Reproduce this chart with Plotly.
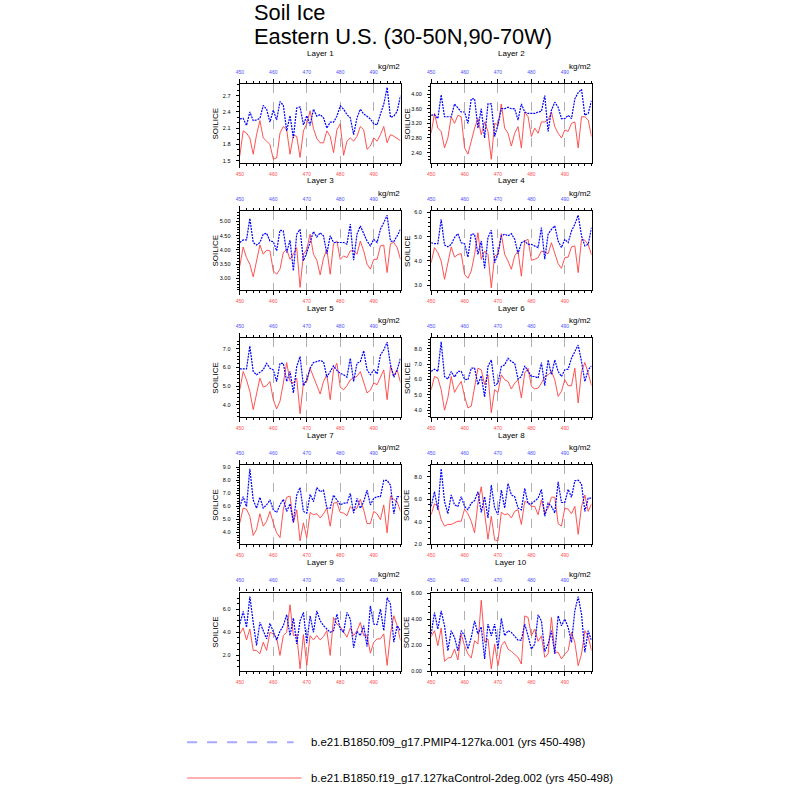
import plotly.graph_objects as go

years = list(range(450, 499))

L1_blue = [2.27,2.28,2.15,2.40,2.24,2.25,2.28,2.52,2.45,2.21,2.43,2.25,2.59,2.52,2.05,2.33,1.92,2.47,2.49,2.16,2.33,2.15,2.45,2.32,2.35,2.29,2.10,2.21,2.21,2.32,2.51,2.45,2.35,2.29,1.98,2.29,2.45,2.36,2.32,2.27,2.18,2.16,2.36,2.54,2.85,2.30,2.32,2.41,2.70]
L1_red = [1.59,2.05,2.01,1.92,1.62,1.98,2.24,1.92,1.86,1.80,1.53,1.55,2.01,2.13,2.07,1.62,1.97,1.95,1.56,2.05,2.18,2.42,2.09,1.91,1.83,1.83,2.05,1.95,1.65,2.07,2.18,1.60,1.86,1.92,1.86,1.95,2.13,2.07,1.71,1.77,1.92,1.86,1.98,2.13,1.83,1.98,1.95,1.91,1.87]

L2_blue = [3.42,3.44,3.33,3.98,3.38,3.38,3.38,3.73,3.62,3.51,3.51,3.20,3.87,3.87,3.07,3.60,2.80,3.73,3.73,2.84,3.16,3.60,3.60,3.64,3.60,3.60,3.29,3.73,3.51,3.47,3.47,3.47,3.51,3.53,3.96,2.98,3.56,3.78,3.64,3.33,3.33,3.42,3.33,3.87,4.04,4.13,3.42,3.47,3.82]
L2_red = [2.93,3.47,3.07,2.98,2.53,2.80,3.38,3.20,3.42,3.38,2.53,2.36,2.71,3.07,3.33,2.89,3.24,2.98,2.22,3.20,3.16,3.73,3.07,2.93,2.58,2.93,3.11,2.53,3.51,3.38,2.84,3.07,2.93,3.24,3.24,3.29,3.51,3.11,2.93,2.80,3.02,2.98,3.20,3.24,2.53,3.38,3.38,3.29,2.84]

L3_blue = [4.26,4.35,4.35,5.10,4.26,4.17,4.26,4.55,4.58,4.31,4.29,3.97,4.69,4.66,3.91,4.34,3.27,4.55,4.72,3.62,3.91,4.31,4.64,4.45,4.60,4.49,3.87,4.49,4.26,4.26,4.26,4.26,4.20,4.90,3.64,4.55,4.84,4.60,4.31,4.14,4.37,4.26,4.72,4.95,5.21,4.31,4.29,4.49,4.72]
L3_red = [3.44,4.10,3.73,3.50,3.06,3.62,4.17,3.85,3.99,3.97,3.27,3.15,3.33,3.91,4.02,3.67,3.85,4.08,2.69,3.85,4.02,4.55,3.85,3.64,3.13,3.71,4.02,3.15,4.22,4.31,3.67,3.79,3.73,3.97,3.97,3.85,4.31,3.97,3.50,3.33,3.67,3.67,4.14,4.17,3.21,4.22,4.26,4.08,3.67]

L4_blue = [4.75,4.71,4.71,5.71,4.66,4.58,4.68,4.96,5.12,4.75,4.71,4.16,5.10,5.10,4.27,4.82,3.70,4.96,5.26,3.93,4.30,5.03,5.10,5.03,5.12,4.89,4.30,4.75,4.82,4.68,4.68,4.62,4.55,5.37,4.07,5.10,5.30,5.44,4.82,4.55,4.89,4.75,5.23,5.51,5.88,5.03,4.62,4.68,5.37]
L4_red = [3.93,4.55,4.34,4.00,3.25,4.00,4.58,4.16,4.27,4.30,3.45,3.29,3.59,4.27,5.16,4.07,4.41,4.27,2.90,4.21,4.27,5.12,4.27,4.00,3.66,4.21,4.41,3.38,4.82,4.89,4.03,4.07,4.14,4.41,4.34,4.30,4.75,4.27,3.89,3.70,4.14,4.16,4.58,4.62,3.52,4.89,4.85,4.68,4.25]

L5_blue = [5.92,5.92,5.92,7.14,5.78,5.61,5.73,5.87,6.22,5.96,5.87,5.25,6.22,6.22,5.25,5.78,4.64,6.05,6.58,5.02,5.34,5.96,6.26,6.31,6.37,6.31,5.48,5.78,6.08,5.84,5.69,5.61,5.48,6.49,5.25,6.22,6.31,6.89,5.87,5.61,5.87,5.66,6.66,6.93,7.35,6.14,5.48,5.87,6.49]
L5_red = [4.81,5.78,5.34,4.72,3.75,4.55,5.43,4.95,5.02,5.25,4.28,3.79,4.20,5.17,6.26,5.25,5.17,5.43,3.53,5.17,5.25,5.96,5.52,5.08,4.58,5.25,5.61,4.28,5.87,6.22,4.95,4.81,5.02,5.34,5.43,5.52,5.78,5.25,4.64,4.78,5.17,5.08,5.48,5.87,4.28,6.05,5.55,5.87,5.20]

L6_blue = [6.52,6.67,6.52,8.45,6.19,6.02,6.52,6.15,6.52,6.52,6.02,5.98,6.73,6.73,5.66,6.24,4.86,6.84,7.27,5.59,5.76,6.84,6.95,7.38,7.16,7.05,6.02,6.19,6.88,6.52,6.19,6.19,6.09,7.10,5.59,7.27,6.30,7.27,6.52,6.19,6.62,6.67,7.38,7.81,8.24,7.16,5.87,6.62,6.88]
L6_red = [5.33,6.19,6.09,5.33,4.00,4.80,6.19,5.16,5.55,5.87,4.90,4.15,4.26,5.51,6.73,6.62,5.66,6.30,3.83,5.33,5.16,6.30,5.98,5.87,5.38,5.76,5.98,4.80,6.41,6.73,5.55,5.38,5.44,5.76,6.19,6.30,6.52,5.98,4.90,5.23,5.98,5.59,5.59,6.73,4.47,6.52,7.10,6.41,5.59]

L7_blue = [5.98,6.74,5.98,8.87,6.49,5.86,6.69,5.86,6.11,6.49,5.73,5.53,6.11,6.54,5.61,6.19,4.78,6.86,7.44,5.61,5.48,6.91,6.36,7.44,7.12,7.24,5.86,5.86,6.86,6.44,6.11,6.24,6.24,6.99,5.48,6.61,5.86,6.36,7.24,6.11,6.61,6.74,6.74,7.99,7.99,7.62,5.43,6.74,6.74]
L7_red = [4.73,5.86,5.78,5.23,3.77,4.23,5.43,4.48,4.85,5.61,4.73,3.97,3.60,5.78,6.69,6.79,4.73,5.73,3.36,4.73,3.60,5.53,5.36,5.43,5.11,5.43,5.86,4.48,6.24,6.29,5.53,5.48,5.28,5.98,5.73,5.86,6.54,5.73,4.68,4.68,5.61,5.43,4.98,6.11,3.97,6.79,6.54,6.36,5.61]

L8_blue = [5.37,6.68,5.07,8.73,5.81,4.72,6.39,5.51,5.37,6.24,5.37,5.07,5.66,5.89,6.68,4.84,6.24,4.34,7.27,5.22,4.63,6.83,5.22,7.41,6.39,6.24,5.22,5.07,6.98,5.60,5.60,5.81,6.10,6.89,4.49,5.66,5.37,4.78,7.56,5.72,5.72,6.89,6.19,7.65,7.71,7.36,4.93,6.10,6.10]
L8_red = [4.63,5.60,5.37,4.20,3.61,3.76,3.76,3.90,4.05,4.05,5.13,4.72,4.05,3.02,5.66,7.12,4.63,2.44,4.49,2.38,2.29,4.84,4.63,4.72,4.34,4.93,5.07,3.76,5.81,5.72,5.37,5.37,4.63,5.95,4.78,5.22,6.19,6.19,3.84,3.61,5.22,5.13,4.72,5.37,2.88,5.37,6.39,4.93,5.60]

L9_blue = [4.72,5.83,4.43,7.13,4.87,2.84,4.87,4.20,3.42,4.78,4.09,3.33,4.09,4.58,5.54,3.71,5.25,2.99,5.01,5.74,3.04,5.45,4.00,5.88,5.01,4.58,4.29,4.00,4.14,5.59,4.29,4.00,5.74,5.16,2.64,4.09,3.71,4.58,2.75,6.32,4.72,4.67,6.03,4.14,7.04,6.46,3.13,4.58,4.14]
L9_red = [3.86,4.38,3.33,4.29,2.41,2.41,2.12,3.13,2.41,4.00,3.86,3.51,1.97,3.71,4.00,6.41,3.71,3.80,0.81,3.80,1.10,3.71,3.33,3.71,3.33,3.62,4.14,1.97,5.30,4.72,4.49,4.00,3.57,4.38,3.71,4.14,4.87,3.71,3.71,2.17,3.13,3.42,3.42,3.86,1.10,3.86,5.45,4.58,3.28]

L10_blue = [2.86,4.52,3.24,4.65,3.50,1.58,3.12,2.60,1.58,3.12,2.73,1.71,2.60,3.88,2.86,3.42,0.95,3.63,2.73,3.63,1.71,4.06,2.73,3.12,2.99,2.73,2.40,2.40,3.63,2.73,1.71,2.09,4.34,3.88,1.53,2.09,3.12,1.33,4.26,3.50,4.01,3.37,2.22,4.65,5.74,4.39,1.46,3.12,2.35]
L10_red = [2.66,3.12,1.97,3.32,0.77,1.02,1.07,1.71,0.87,2.86,1.97,1.33,1.02,2.35,2.09,5.46,2.22,2.48,0.18,2.09,0.43,1.97,2.30,1.71,1.53,1.33,1.07,0.56,4.26,4.14,2.73,3.24,2.30,2.73,1.07,1.33,4.14,1.46,1.46,0.95,1.33,1.58,2.99,2.22,0.43,1.33,3.12,2.66,1.58]

layer_names = ["Layer 1", "Layer 2", "Layer 3", "Layer 4", "Layer 5",
               "Layer 6", "Layer 7", "Layer 8", "Layer 9", "Layer 10"]
blue_series = [L1_blue, L2_blue, L3_blue, L4_blue, L5_blue, L6_blue, L7_blue, L8_blue, L9_blue, L10_blue]
red_series = [L1_red, L2_red, L3_red, L4_red, L5_red, L6_red, L7_red, L8_red, L9_red, L10_red]

y_ranges = [[1.46, 2.91], [2.12, 4.27], [2.60, 5.35], [2.81, 6.04], [3.35, 7.55],
            [3.55, 8.67], [3.10, 9.13], [2.0, 9.02], [0.58, 7.48], [0.0, 6.05]]
y_tick0 = [1.5, 2.4, 3.0, 3.0, 4.0, 4.0, 4.0, 2.0, 2.0, 0.0]
y_dtick = [0.3, 0.4, 0.5, 1.0, 1.0, 1.0, 1.0, 2.0, 2.0, 2.0]
y_minor = [0.1, 0.1, 0.1, 0.2, 0.2, 0.2, 0.2, 0.5, 0.5, 0.5]
y_fmt = [".1f", ".2f", ".2f", ".1f", ".1f", ".1f", ".1f", ".1f", ".1f", ".2f"]

run_names = ["b.e21.B1850.f09_g17.PMIP4-127ka.001 (yrs 450-498)",
             "b.e21.B1850.f19_g17.127kaControl-2deg.002 (yrs 450-498)"]

W = H = 800
FONT = "Liberation Sans, Arial, Helvetica, sans-serif"
BLUE = "#0000ff"
RED = "#ff4040"
BLUE_LBL = "#5050ff"
RED_LBL = "#ff5050"

col_x = [(237.0, 398.5), (429.3, 590.5)]
row_top0 = 82.7
row_step = 127.9
box_h = 79.2

fig = go.Figure()
annotations = []
shapes = []

def px2x(p):
    return p / W

def px2y(p):
    return 1 - p / H

for i in range(10):
    r, c = divmod(i, 2)
    x0, x1 = col_x[c]
    top = row_top0 + r * row_step
    bot = top + box_h
    n = i + 1
    nt = i + 11
    xb = "xaxis" if n == 1 else f"xaxis{n}"
    yb = "yaxis" if n == 1 else f"yaxis{n}"
    xt = f"xaxis{nt}"
    xb_ref = "x" if n == 1 else f"x{n}"
    yb_ref = "y" if n == 1 else f"y{n}"
    xt_ref = f"x{nt}"

    fig.add_trace(go.Scatter(x=years, y=red_series[i], mode="lines",
                             line=dict(color=RED, width=0.9),
                             xaxis=xb_ref, yaxis=yb_ref, showlegend=False,
                             hoverinfo="skip"))
    fig.add_trace(go.Scatter(x=years, y=blue_series[i], mode="lines",
                             line=dict(color=BLUE, width=1.2, dash="2px,1px"),
                             xaxis=xt_ref, yaxis=yb_ref, showlegend=False,
                             hoverinfo="skip"))

    common_x = dict(range=[450, 498], tickvals=[450, 460, 470, 480, 490],
                    ticks="outside", ticklen=4, tickwidth=0.8, tickcolor="black",
                    minor=dict(dtick=2, tick0=450, ticks="outside", ticklen=2,
                               tickwidth=0.6, tickcolor="black"),
                    zeroline=False, fixedrange=True)
    fig.layout[xb] = dict(domain=[px2x(x0), px2x(x1)], anchor=yb_ref, side="bottom",
                          showline=True, linecolor="black", linewidth=1.4, mirror=True,
                          showgrid=True, griddash="dash", gridcolor="#b0b0b0", gridwidth=0.8,
                          tickfont=dict(size=5, color=RED_LBL, family=FONT),
                          ticklabelstandoff=2, **common_x)
    fig.layout[xt] = dict(overlaying=xb_ref, anchor=yb_ref, side="top",
                          showline=True, linecolor="black", linewidth=1.4,
                          showgrid=False,
                          tickfont=dict(size=5, color=BLUE_LBL, family=FONT),
                          ticklabelstandoff=3, **common_x)
    fig.layout[yb] = dict(domain=[px2y(bot), px2y(top)], anchor=xb_ref,
                          range=y_ranges[i], tick0=y_tick0[i], dtick=y_dtick[i],
                          tickformat=y_fmt[i],
                          showline=True, linecolor="black", linewidth=1.4, mirror=True,
                          showgrid=False, zeroline=False,
                          ticks="outside", ticklen=3, tickwidth=0.8, tickcolor="black",
                          minor=dict(dtick=y_minor[i], ticks="outside", ticklen=1.5,
                                     tickwidth=0.6, tickcolor="black"),
                          tickfont=dict(size=5.5, color="black", family=FONT),
                          ticklabelstandoff=4, fixedrange=True)

    cx = (x0 + x1) / 2
    annotations.append(dict(text=layer_names[i], x=px2x(cx), y=px2y(top - 30.5),
                            xref="paper", yref="paper", xanchor="center", yanchor="middle",
                            showarrow=False, font=dict(size=8, family=FONT, color="black")))
    annotations.append(dict(text="kg/m2", x=px2x(x1 + 1), y=px2y(top - 18),
                            xref="paper", yref="paper", xanchor="right", yanchor="middle",
                            showarrow=False, font=dict(size=8, family=FONT, color="black")))
    annotations.append(dict(text="SOILICE", x=px2x(x0 - 24), y=px2y((top + bot) / 2),
                            xref="paper", yref="paper", xanchor="center", yanchor="middle",
                            textangle=-90, showarrow=False,
                            font=dict(size=8, family=FONT, color="black")))

# Title
annotations.append(dict(text="Soil Ice", x=px2x(249), y=px2y(10.5), xref="paper", yref="paper",
                        xanchor="left", yanchor="middle", showarrow=False,
                        font=dict(size=21.8, family=FONT, color="black")))
annotations.append(dict(text="Eastern U.S. (30-50N,90-70W)", x=px2x(249), y=px2y(35),
                        xref="paper", yref="paper", xanchor="left", yanchor="middle",
                        showarrow=False, font=dict(size=21.8, family=FONT, color="black")))

# Legend (drawn manually: long key lines)
leg_y = [745.0, 781.0]
shapes.append(dict(type="line", xref="paper", yref="paper",
                   x0=px2x(184), x1=px2x(291), y0=px2y(leg_y[0]), y1=px2y(leg_y[0]),
                   line=dict(color="#a8a8ff", width=2, dash="10px,10px")))
shapes.append(dict(type="line", xref="paper", yref="paper",
                   x0=px2x(184), x1=px2x(299), y0=px2y(leg_y[1]), y1=px2y(leg_y[1]),
                   line=dict(color="#ffb0b0", width=2)))
for k in range(2):
    annotations.append(dict(text=run_names[k], x=px2x(307), y=px2y(leg_y[k]),
                            xref="paper", yref="paper",
                            xanchor="left", yanchor="middle", showarrow=False,
                            font=dict(size=11.4, family=FONT, color="black")))

fig.update_layout(width=W, height=H, margin=dict(l=0, r=0, t=0, b=0),
                  paper_bgcolor="white", plot_bgcolor="white",
                  annotations=annotations, shapes=shapes, showlegend=False)

fig.write_html("out.html", config={"displayModeBar": False},
               post_script="document.body.style.margin='0px';document.body.style.padding='0px';")
